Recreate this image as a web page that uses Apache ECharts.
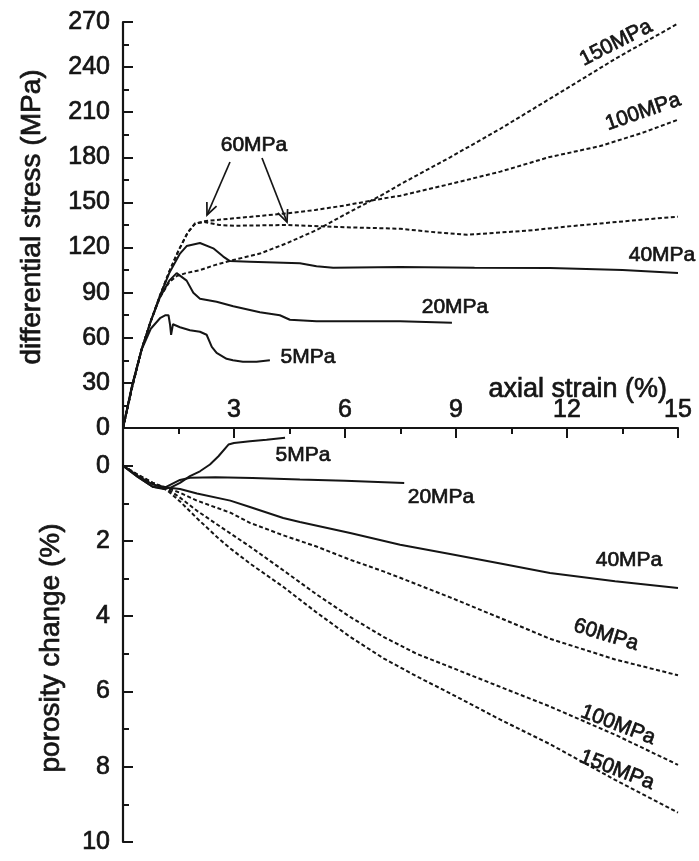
<!DOCTYPE html>
<html>
<head>
<meta charset="utf-8">
<script src="https://cdn.jsdelivr.net/npm/echarts@6/dist/echarts.min.js"></script>
<style>
html,body{margin:0;padding:0;background:#fff;}
#main{width:699px;height:861px;}
</style>
</head>
<body>
<div id="main"></div>
<script>
// ---------- Data: differential stress (MPa) vs axial strain (%) ----------
const strain5Top   = [0,0.25,0.5,0.75,1.0,1.15,1.23,1.27,1.3,1.35,1.54,1.81,2.08,2.26,2.4,2.53,2.8,2.97,3.24,3.61,3.97];
const stress5      = [0,29,52,66,73,75,75,69,62,69,67,65,64,62,54,50,46,45,44,44,45];
const strain20Top  = [0,0.25,0.5,0.75,1.0,1.25,1.45,1.72,1.9,2.08,2.53,2.98,3.7,4.24,4.51,5.23,6.5,7.49,8.89];
const stress20     = [0,28,52,71,87,98,103,98,90,86,84,81,77,75,72,71,71,71,70];
const strain40Top  = [0,0.25,0.5,0.75,1.0,1.25,1.54,1.72,2.08,2.44,2.71,2.89,3.43,4.78,5.23,5.68,7.49,9.5,11.54,13.5,15];
const stress40     = [0,28,52,71,88,103,116,121,123,119.5,114,111,110.6,109.5,107.5,106.5,107,106.5,106.4,105,103];
const strain60Top  = [0,0.25,0.5,0.75,1.0,1.25,1.5,1.75,1.95,2.2,2.6,3.0,4.4,6.0,7.5,8.5,9.3,10.2,11.1,12.0,12.9,14.0,15];
const stress60     = [0,28,52,71,88,104,118,130,136,137,135,134.5,135,133.5,132.5,130,128.5,130,131.6,134,136,138.5,140.5];
const strain100Top = [0,0.25,0.5,0.75,1.0,1.25,1.5,1.75,1.95,2.2,2.6,3.0,3.7,4.4,5.2,6.0,7.0,7.5,8.8,10.2,11.5,12.9,14,15];
const stress100    = [0,28,52,71,88,104,118,130,136,137.5,138.5,139.5,141,142.7,145,148,152.5,154.5,162,170.5,180,187.5,196,205];
const strain150Top = [0,0.25,0.5,0.75,1.0,1.25,1.45,1.7,2.08,2.5,2.98,3.7,4.42,5.23,6.0,7.0,7.49,8.84,10.2,11.54,13.34,15];
const stress150    = [0,27,52,71,87,97,101,103,105,108.5,111.7,116,122.8,131.6,142,155,162,180,199,219,246,269];

// ---------- Data: porosity change (%) vs axial strain (%) ----------
const strain5Bot   = [0,0.4,0.8,1.1,1.3,1.54,1.81,2.08,2.35,2.58,2.85,3.0,3.43,3.88,4.38];
const poro5        = [0,0.3,0.56,0.62,0.58,0.46,0.28,0.15,-0.03,-0.25,-0.56,-0.6,-0.65,-0.69,-0.74];
const strain20Bot  = [0,0.4,0.8,1.1,1.3,1.54,1.81,2.5,3.5,4.78,6.0,7.6];
const poro20       = [0,0.3,0.56,0.6,0.5,0.38,0.32,0.31,0.33,0.37,0.4,0.46];
const strain40Bot  = [0,0.4,0.8,1.2,1.54,2.0,2.9,3.43,4.33,4.78,6.14,7.49,8.84,10.2,11.54,13.3,15];
const poro40       = [0,0.27,0.5,0.58,0.62,0.74,0.93,1.1,1.39,1.5,1.79,2.1,2.35,2.6,2.85,3.07,3.25];
const strain60Bot  = [0,0.4,0.8,1.2,1.54,2.0,2.9,3.43,4.33,5.23,6.14,7.04,7.49,8.84,10.2,11.54,13.3,15];
const poro60       = [0,0.25,0.47,0.6,0.72,0.93,1.25,1.52,1.85,2.15,2.5,2.81,2.98,3.5,4.05,4.6,5.15,5.57];
const strain100Bot = [0,0.4,0.8,1.2,1.54,2.0,2.9,3.43,4.33,5.23,6.14,7.04,7.94,8.84,10.2,11.54,13.3,15];
const poro100      = [0,0.24,0.45,0.62,0.85,1.2,1.8,2.15,2.78,3.42,4.02,4.55,5.0,5.35,5.88,6.4,7.15,7.95];
const strain150Bot = [0,0.4,0.8,1.2,1.54,2.0,2.6,2.9,3.43,4.33,5.23,6.14,7.04,7.94,8.84,10.2,11.54,13.3,15];
const poro150      = [0,0.25,0.46,0.66,0.95,1.4,1.95,2.2,2.6,3.22,3.9,4.55,5.12,5.6,6.05,6.75,7.4,8.35,9.22];

// ---------- Tick labels ----------
const strainTicks   = [3,6,9,12,15];
const stressTicks   = [0,30,60,90,120,150,180,210,240,270];
const poroTicks     = [0,2,4,6,8,10];
const poroMinorTicks= [1,3,5,7,9];

const zip = (xs, ys) => xs.map((x, i) => [x, ys[i]]);
const INK = '#151515';
const FONT = "'Liberation Sans', Arial, Helvetica, sans-serif";

function line(name, xs, ys, dashed, idx) {
  return {
    name, type: 'line', xAxisIndex: idx, yAxisIndex: idx,
    data: zip(xs, ys), showSymbol: false, symbol: 'none', silent: true,
    animation: false,
    lineStyle: { color: INK, width: 2, type: dashed ? [4, 2.5] : 'solid' }
  };
}

function txt(text, x, y, size, rotDeg, align) {
  return {
    type: 'text', x, y, rotation: (rotDeg || 0) * Math.PI / 180, silent: true,
    style: { text, fontSize: size, fontFamily: FONT, fill: INK,
             stroke: INK, lineWidth: 0.7,
             align: align || 'center', verticalAlign: 'middle' }
  };
}

function arrow(sx, sy, tx, ty) {
  const dx = tx - sx, dy = ty - sy, L = Math.hypot(dx, dy);
  const ux = dx / L, uy = dy / L, a = 24 * Math.PI / 180, h = 13;
  const p1 = [tx - h * (ux * Math.cos(a) - uy * Math.sin(a)), ty - h * (ux * Math.sin(a) + uy * Math.cos(a))];
  const p2 = [tx - h * (ux * Math.cos(-a) - uy * Math.sin(-a)), ty - h * (ux * Math.sin(-a) + uy * Math.cos(-a))];
  return [
    { type: 'line', silent: true, shape: { x1: sx, y1: sy, x2: tx, y2: ty }, style: { stroke: INK, lineWidth: 1.7 } },
    { type: 'polyline', silent: true, shape: { points: [p1, [tx, ty], p2] }, style: { stroke: INK, lineWidth: 1.7, fill: null } }
  ];
}

const axisLineStyle = { color: INK, width: 2.2 };
const tickLabel = { fontSize: 25, fontFamily: FONT, color: INK, textBorderColor: INK, textBorderWidth: 0.7 };
const chart = echarts.init(document.getElementById('main'), null, { renderer: 'canvas' });

const option = {
  backgroundColor: '#fff',
  animation: false,
  grid: [
    { left: 123, top: 22, width: 555, height: 406 },
    { left: 123, top: 428, width: 555, height: 414 }
  ],
  xAxis: [
    {
      gridIndex: 0, type: 'value', min: 0, max: 15, interval: 3, position: 'bottom',
      axisLine: { show: true, lineStyle: axisLineStyle },
      axisTick: { show: true, inside: false, length: 10, lineStyle: { color: INK, width: 2 } },
      minorTick: { show: true, splitNumber: 2, length: 6, lineStyle: { color: INK, width: 2 } },
      axisLabel: Object.assign({ inside: true, margin: 5, customValues: strainTicks }, tickLabel),
      splitLine: { show: false }, minorSplitLine: { show: false }
    },
    { gridIndex: 1, type: 'value', min: 0, max: 15, show: false }
  ],
  yAxis: [
    {
      gridIndex: 0, type: 'value', min: 0, max: 270, interval: 30, position: 'left',
      axisLine: { show: true, lineStyle: axisLineStyle },
      axisTick: { show: true, inside: true, length: 10, lineStyle: { color: INK, width: 2 } },
      minorTick: { show: true, splitNumber: 2, length: 6, lineStyle: { color: INK, width: 2 } },
      axisLabel: Object.assign({ margin: 13, customValues: stressTicks }, tickLabel),
      splitLine: { show: false }
    },
    {
      gridIndex: 1, type: 'value', min: -1, max: 10, inverse: true, position: 'left',
      axisLine: { show: true, lineStyle: axisLineStyle },
      axisTick: { show: true, inside: true, length: 10, customValues: poroTicks, lineStyle: { color: INK, width: 2 } },
      axisLabel: Object.assign({ margin: 13, customValues: poroTicks }, tickLabel),
      splitLine: { show: false }
    },
    {
      gridIndex: 1, type: 'value', min: -1, max: 10, inverse: true, position: 'left', offset: 0,
      axisLine: { show: false },
      axisTick: { show: true, inside: true, length: 6, customValues: poroMinorTicks, lineStyle: { color: INK, width: 2 } },
      axisLabel: { show: false },
      splitLine: { show: false }
    }
  ],
  series: [
    line('5MPa', strain5Top, stress5, false, 0),
    line('20MPa', strain20Top, stress20, false, 0),
    line('40MPa', strain40Top, stress40, false, 0),
    line('60MPa', strain60Top, stress60, true, 0),
    line('100MPa', strain100Top, stress100, true, 0),
    line('150MPa', strain150Top, stress150, true, 0),
    line('5MPa', strain5Bot, poro5, false, 1),
    line('20MPa', strain20Bot, poro20, false, 1),
    line('40MPa', strain40Bot, poro40, false, 1),
    line('60MPa', strain60Bot, poro60, true, 1),
    line('100MPa', strain100Bot, poro100, true, 1),
    line('150MPa', strain150Bot, poro150, true, 1)
  ],
  graphic: [
    txt('differential stress (MPa)', 32, 217, 28, 90),
    txt('porosity change (%)', 51, 648, 28, 90),
    txt('axial strain (%)', 667, 390, 27, 0, 'right'),
    // top labels
    txt('150MPa', 616, 43, 21, 27),
    txt('100MPa', 643, 112, 21, 19),
    txt('40MPa', 662, 255, 21, 0),
    txt('20MPa', 455, 307, 21, 0),
    txt('5MPa', 308, 357, 21, 0),
    txt('60MPa', 254, 145, 21, 0),
    ...arrow(230, 162, 207, 215),
    ...arrow(262, 158, 287, 222),
    // bottom labels
    txt('5MPa', 303, 455, 21, 0),
    txt('20MPa', 441, 497, 21, 0),
    txt('40MPa', 629, 560, 21, 0),
    txt('60MPa', 606, 635, 21, -17),
    txt('100MPa', 618, 725, 21, -21),
    txt('150MPa', 617, 770, 21, -21)
  ]
};
chart.setOption(option);
</script>
</body>
</html>
